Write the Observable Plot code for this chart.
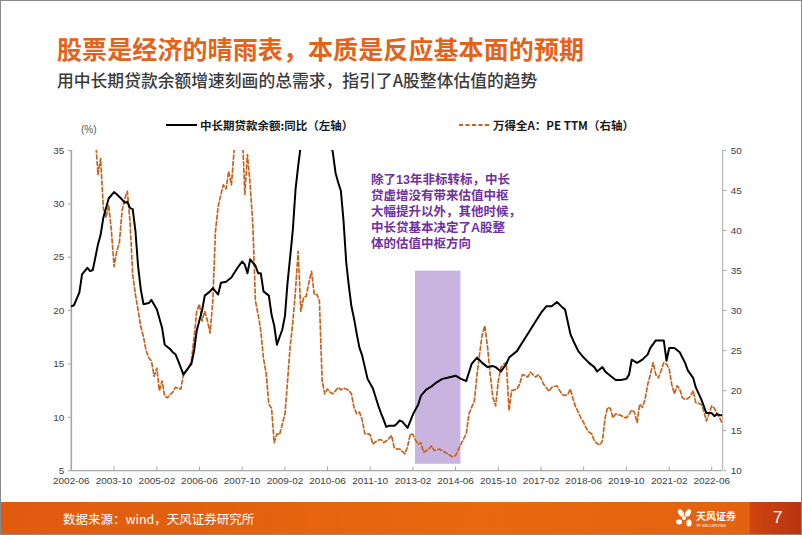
<!DOCTYPE html>
<html><head><meta charset="utf-8">
<script src="https://cdn.jsdelivr.net/npm/d3@7"></script>
<script src="https://cdn.jsdelivr.net/npm/@observablehq/plot@0.6"></script>
<style>
body{margin:0;background:#fff;}
#slide{position:relative;width:802px;height:535px;overflow:hidden;background:#fff;font-family:"Noto Sans CJK SC","Noto Sans",sans-serif;box-sizing:border-box;border:1px solid #8a8a8a;}
.abs{position:absolute;white-space:nowrap;}
#title{left:56px;top:33px;font-size:25px;line-height:28px;font-weight:700;color:#e4631b;letter-spacing:0.1px;}
#subtitle{left:56px;top:69px;font-size:16.8px;line-height:20px;font-weight:500;color:#3b3b3b;}
.leg{top:116px;font-size:11.5px;line-height:16px;font-weight:700;color:#1a1a1a;display:flex;align-items:center;}
.leg svg{margin-right:3px;}
#pct{left:80px;top:123px;font-size:10px;color:#555;font-family:"Liberation Sans",Arial,sans-serif;}
#note{left:370px;top:171px;font-size:12.5px;line-height:16px;font-weight:700;color:#7030a0;font-family:"Liberation Sans","Noto Sans CJK SC",sans-serif;}
#chart{position:absolute;left:0;top:140px;}
#footer{position:absolute;left:0;top:501px;width:802px;height:34px;background:linear-gradient(to right,#e05a10 0%,#e8690f 60%,#e4620f 93.2%,#cf4410 93.5%,#b8330f 100%);}
#src{left:62px;top:9px;font-size:12.5px;line-height:16px;color:#fff;}
#pg{left:772px;top:6px;font-size:17px;line-height:20px;color:#fff;font-family:"Liberation Sans",Arial,sans-serif;}
#logo{left:672px;top:4px;}
</style></head>
<body>
<div id="slide">
  <div id="title" class="abs">股票是经济的晴雨表，本质是反应基本面的预期</div>
  <div id="subtitle" class="abs">用中长期贷款余额增速刻画的总需求，指引了A股整体估值的趋势</div>
  <div id="pct" class="abs">(%)</div>
  <div class="abs leg" style="left:165px"><svg width="31" height="6"><line x1="0" y1="3" x2="31" y2="3" stroke="#000" stroke-width="2"/></svg>中长期贷款余额:同比（左轴）</div>
  <div class="abs leg" style="left:458px"><svg width="31" height="6"><line x1="0" y1="3" x2="31" y2="3" stroke="#c9621c" stroke-width="1.8" stroke-dasharray="4,2.5"/></svg>万得全A：PE TTM（右轴）</div>
  <div id="chart"></div>
  <div id="note" class="abs">除了13年非标转标，中长<br>贷虚增没有带来估值中枢<br>大幅提升以外，其他时候，<br>中长贷基本决定了A股整<br>体的估值中枢方向</div>
  <div id="footer">
    <div id="src" class="abs">数据来源：wind，天风证券研究所</div>
    <div id="logo" class="abs"><svg width="70" height="26">
      <g fill="#fff"><ellipse cx="8" cy="7" rx="2.6" ry="4" transform="rotate(-30 8 7)"/><ellipse cx="15" cy="7" rx="2.6" ry="4" transform="rotate(30 15 7)"/><ellipse cx="6" cy="16" rx="3" ry="2.4"/><ellipse cx="16" cy="17" rx="2.6" ry="3.6"/><circle cx="11" cy="12" r="2"/></g>
      <text x="23" y="14" fill="#fff" font-size="10" font-weight="700" font-family="Noto Sans CJK SC">天风证券</text>
      <text x="23" y="21" fill="#fff" font-size="4" font-family="Liberation Sans">TF SECURITIES</text></svg></div>
    <div id="pg" class="abs">7</div>
  </div>
</div>
<script>
// ---- Data ----
const loanDates = ["2002-06","2002-07","2002-09","2002-10","2002-12","2003-01","2003-02","2003-04","2003-05","2003-06","2003-08","2003-10","2003-11",
"2004-01","2004-02","2004-03","2004-04","2004-05","2004-06","2004-07","2004-08","2004-09","2004-11","2004-12",
"2005-02","2005-04","2005-05","2005-07","2005-08","2005-09","2005-10","2005-12",
"2006-02","2006-03","2006-04","2006-05","2006-07","2006-08","2006-10","2006-11",
"2007-01","2007-02","2007-04","2007-06","2007-08","2007-10","2007-11","2007-12",
"2008-01","2008-03","2008-04","2008-05","2008-06","2008-08","2008-09","2008-10","2008-11","2008-12",
"2009-01","2009-02","2009-03","2009-04","2009-05","2009-06","2009-07","2009-08","2009-09","2009-10","2009-12",
"2010-03","2010-06","2010-07","2010-08","2010-09","2010-10","2010-11","2010-12",
"2011-01","2011-02","2011-03","2011-04","2011-05","2011-06","2011-07","2011-08","2011-09","2011-11",
"2012-01","2012-02","2012-03","2012-04","2012-05","2012-07","2012-08","2012-09","2012-10","2012-12",
"2013-02","2013-04","2013-05","2013-07","2013-09","2013-11",
"2014-01","2014-03","2014-06","2014-08","2014-10","2014-12",
"2015-02","2015-04","2015-06","2015-08","2015-09","2015-11",
"2016-01","2016-02","2016-05","2016-07","2016-09","2016-12",
"2017-02","2017-04","2017-06","2017-08","2017-10","2017-11",
"2018-01","2018-02","2018-04","2018-06","2018-08","2018-10","2018-11",
"2019-01","2019-02","2019-04","2019-06","2019-08","2019-10","2019-11","2019-12",
"2020-02","2020-04","2020-06","2020-07","2020-09","2020-11","2020-12",
"2021-01","2021-02","2021-04","2021-06","2021-08","2021-09","2021-11","2021-12",
"2022-02","2022-04","2022-06","2022-07","2022-08","2022-09","2022-10"];
const loanValues = [20.4,20.5,21.7,23.4,24.0,23.7,23.8,26.2,27.1,28.7,30.5,31.1,30.9,
30.4,30.1,30.2,29.6,29.5,27.5,24.2,22.0,20.6,20.7,21.0,
20.1,18.4,16.8,16.4,16.1,15.9,15.3,14.0,
14.7,15.0,16.2,18.1,20.0,21.4,21.8,22.1,
21.5,22.6,22.7,23.1,23.9,24.6,24.3,23.5,
24.8,24.2,23.5,23.5,21.8,21.4,19.6,18.6,16.8,17.5,
18.2,19.5,22.5,25.0,27.5,31.3,33.5,35.5,37.5,38.5,39.5,
38.5,36.5,36.0,34.8,32.9,32.0,31.2,28.4,
24.5,22.2,20.4,19.2,17.8,16.5,15.8,14.7,13.6,12.7,
11.1,10.4,9.8,9.1,9.2,9.2,9.4,9.7,9.6,9.0,
10.3,11.2,12.0,12.6,12.9,13.3,
13.6,13.7,13.9,13.6,13.4,15.0,
15.6,15.1,14.7,14.8,14.7,14.3,
15.0,15.6,16.2,17.0,17.8,19.0,
19.8,20.4,20.4,20.8,20.3,20.1,
17.8,17.2,16.2,15.6,15.1,14.7,14.3,
14.7,14.3,13.9,13.5,13.5,13.6,14.0,15.4,
15.1,15.4,15.9,16.5,17.2,17.2,17.2,
15.3,16.5,16.5,16.1,15.1,14.4,13.7,12.8,
11.7,10.4,10.4,10.1,10.3,10.2,10.2];

// Wind All A PE TTM, monthly from peStart
const peStart = "2002-06";
const peValues = [
56,55,54,54,55,56,55,54,53,52,
47.0,49.0,42.8,41.6,43.2,40.0,35.5,37.4,38.5,42.5,
44.0,44.9,41.0,34.5,32.0,30.1,28.0,26.7,25.0,24.1,
23.7,21.8,22.8,20.0,21.2,19.3,19.1,19.5,19.8,20.4,
20.3,20.2,22.0,22.5,22.9,23.7,26.6,29.9,30.8,28.7,
29.9,28.7,27.2,31.2,39.9,43.0,44.5,45.7,45.2,47.4,
45.7,49.9,53,56,53,44.5,49.5,45.7,40.6,31.2,
29.5,27.5,24.0,22.2,18.3,17.8,13.5,14.6,14.5,15.8,
17.1,21.0,25.5,28.5,32.5,37.4,29.9,31.6,31.8,33.5,
34.9,32.0,32.0,31.2,21.2,19.6,20.2,19.8,19.6,20.0,
20.4,20.1,20.3,20.2,20.0,19.6,17.8,17.1,17.3,16.4,
14.6,14.6,14.5,13.3,13.6,13.8,13.9,13.5,13.7,14.0,
14.4,12.9,12.7,12.7,12.4,12.1,13.0,14.6,14.5,13.8,
13.3,13.5,12.3,12.5,12.7,13.1,12.5,12.6,12.7,12.5,
12.3,12.1,11.9,11.7,11.9,12.6,13.3,14.0,14.6,17.1,
17.9,18.7,22.0,24.5,27.0,28.1,25.4,22.0,19.1,18.1,
21.2,22.9,23.3,23.5,17.5,20.0,20.1,20.2,20.8,22.0,
21.9,21.7,22.3,22.0,21.7,22.0,21.5,20.8,20.4,19.9,
20.4,20.5,20.6,20.0,19.5,19.4,19.5,20.2,18.9,18.0,
17.3,16.6,16.0,15.3,14.8,14.6,13.7,13.4,13.2,13.7,
16.6,17.9,17.8,16.6,17.1,17.0,16.9,16.7,16.6,17.0,
17.6,17.3,16.0,18.3,17.9,18.9,20.8,22.0,23.5,22.0,
21.6,22.5,23.5,23.3,22.7,20.8,19.6,20.6,20.2,19.1,
18.9,19.0,19.3,20.0,18.5,18.4,18.3,17.5,16.2,17.1,
18.1,17.8,17.1,16.6,15.8];

const xTickLabels = ["2002-06","2003-10","2005-02","2006-06","2007-10","2009-02","2010-06","2011-10","2013-02","2014-06","2015-10","2017-02","2018-06","2019-10","2021-02","2022-06"];
const leftTicks = [5,10,15,20,25,30,35];
const rightTicks = [10,15,20,25,30,35,40,45,50];
const shadeStart = "2013-03", shadeEnd = "2014-08", shadeLow = 5.6, shadeHigh = 23.7;

// ---- Build ----
const parse = d3.utcParse("%Y-%m");
const loans = loanDates.map((d,i)=>({date:parse(d), value:loanValues[i]}));
const pe = peValues.map((v,i)=>({date:d3.utcMonth.offset(parse(peStart), i), value:v}));
// right axis [10,50] mapped onto left axis [5,35]
const toLeft = v => 5 + (v - 10) * 0.75;
const fromLeft = v => Math.round((v - 5) / 0.75 + 10);
const xStart = parse("2002-06"), xEnd = new Date(Date.UTC(2022, 9, 4));
const xTicks = xTickLabels.map(parse);

const chart = Plot.plot({
  width: 802, height: 360,
  marginLeft: 70, marginRight: 79, marginTop: 9, marginBottom: 30,
  style: {fontFamily: "'Liberation Sans', Arial, sans-serif", fontSize: "10px", color: "#404040", background: "transparent", overflow: "visible"},
  x: {type: "utc", domain: [xStart, xEnd]},
  y: {domain: [5, 35]},
  marks: [
    Plot.rect([{s: parse(shadeStart), e: parse(shadeEnd), lo: shadeLow, hi: shadeHigh}], {x1: "s", x2: "e", y1: "lo", y2: "hi", fill: "#c9b4e0"}),
    Plot.ruleY([5], {stroke: "#a6a6a6", strokeWidth: 1.2}),
    Plot.ruleX([xStart], {stroke: "#a6a6a6", strokeWidth: 1.6}),
    Plot.ruleX([xEnd], {stroke: "#a6a6a6", strokeWidth: 1}),
    Plot.ruleX(xTicks, {y1: 5, y2: 5.35, stroke: "#a6a6a6"}),
    Plot.axisY(leftTicks, {anchor: "left", tickSize: 3, tickPadding: 4, label: null, stroke: "#a6a6a6"}),
    Plot.axisY(rightTicks.map(toLeft), {anchor: "right", tickSize: 3, tickPadding: 5, tickFormat: fromLeft, label: null, stroke: "#a6a6a6"}),
    Plot.axisX(xTicks, {tickSize: 0, tickPadding: 6, tickFormat: d3.utcFormat("%Y-%m"), label: null}),
    Plot.line(pe, {x: "date", y: d => toLeft(d.value), stroke: "#c9621c", strokeWidth: 1.7, strokeDasharray: "4,2.5", clip: true}),
    Plot.line(loans, {x: "date", y: "value", stroke: "#000", strokeWidth: 2, clip: true})
  ]
});
document.getElementById("chart").appendChild(chart);
</script>
</body></html>
